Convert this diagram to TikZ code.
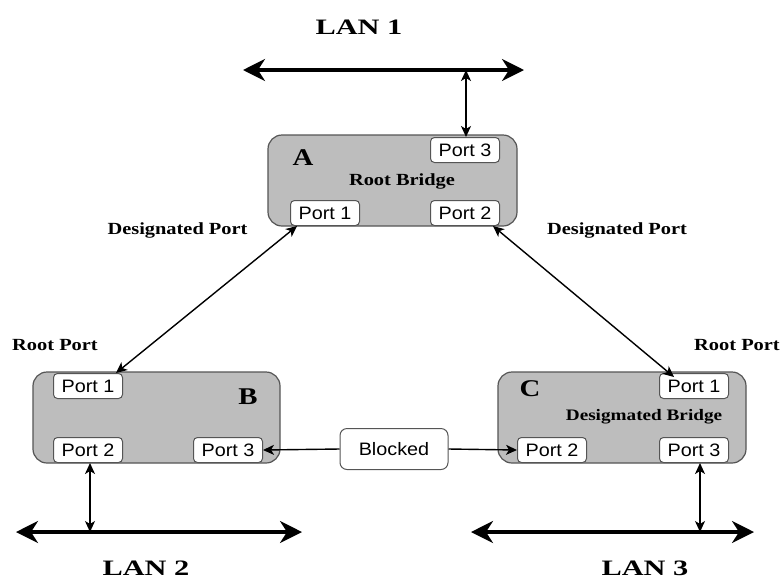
\documentclass[tikz,border=0pt]{standalone}
\usepackage{fontspec}
\setmainfont{Liberation Serif}
\newfontfamily\portfont[FakeStretch=1.1]{Liberation Sans}
\newfontfamily\capfont[FakeStretch=1.2]{Liberation Serif}
\newfontfamily\lanfont[FakeStretch=1.38]{Liberation Serif}
\usetikzlibrary{arrows.meta}
\definecolor{bridgegray}{HTML}{BDBDBD}
\definecolor{edgegray}{HTML}{555555}
\begin{document}
\begin{tikzpicture}[x=1pt,y=-1pt,
  bridge/.style={draw=edgegray,line width=1.2pt,fill=bridgegray,rounded corners=14pt},
  portbox/.style={draw=edgegray,line width=1pt,fill=white,rounded corners=4pt,
    minimum width=69pt,minimum height=25pt,inner sep=0pt,
    font=\portfont\fontsize{18}{18}\selectfont},
  blockbox/.style={draw=edgegray,line width=1pt,fill=white,rounded corners=7pt,
    minimum width=108pt,minimum height=41pt,inner sep=0pt,
    font=\portfont\fontsize{18}{18}\selectfont},
  letter/.style={font=\capfont\bfseries\fontsize{24}{24}\selectfont},
  lanlabel/.style={font=\lanfont\bfseries\fontsize{22}{22}\selectfont},
  caption/.style={font=\capfont\bfseries\fontsize{17}{17}\selectfont},
  bigtip/.tip={Stealth[length=22pt,width=22pt,inset=7pt]},
  smalltip/.tip={Stealth[length=11pt,width=10pt,inset=3pt]},
  lanline/.style={line width=3.2pt,bigtip-bigtip},
  link/.style={line width=1.4pt,smalltip-smalltip}
]
\useasboundingbox (0,0) rectangle (783,579);

% LAN segments
\coordinate (l1a) at (243,70);  \coordinate (l1b) at (524,70);
\coordinate (l2a) at (16,532);  \coordinate (l2b) at (302,532);
\coordinate (l3a) at (471,532); \coordinate (l3b) at (754,532);
\draw[lanline] (l1a) -- (l1b);
\draw[lanline] (l2a) -- (l2b);
\draw[lanline] (l3a) -- (l3b);
\node[lanlabel] (lan1) at (359,27) {LAN 1};
\node[lanlabel] (lan2) at (146,568) {LAN 2};
\node[lanlabel] (lan3) at (645,568) {LAN 3};

% Bridge A (root)
\node[bridge,minimum width=249pt,minimum height=91pt] (A) at (392.5,180.5) {};
\node[portbox] (a3) at (465,150) {Port 3};
\node[portbox] (a1) at (325,213) {Port 1};
\node[portbox] (a2) at (465,213) {Port 2};
\node[letter] (an) at (303,158) {A};
\node[caption] (ac) at (402,181) {Root Bridge};

% Bridge B
\node[bridge,minimum width=247pt,minimum height=91pt] (B) at (156.5,417.5) {};
\node[portbox] (b1) at (88,386) {Port 1};
\node[portbox] (b2) at (88,450) {Port 2};
\node[portbox] (b3) at (228,450) {Port 3};
\node[letter] (bn) at (248,397) {B};

% Bridge C (designated)
\node[bridge,minimum width=248pt,minimum height=91pt] (C) at (622,417.5) {};
\node[portbox] (c1) at (694,386) {Port 1};
\node[portbox] (c2) at (552,450) {Port 2};
\node[portbox] (c3) at (694,450) {Port 3};
\node[letter] (cn) at (530,389) {C};
\node[caption,font=\capfont\bfseries\fontsize{16}{16}\selectfont] (cc) at (644,417) {Desigmated Bridge};

% Blocked segment between B and C
\node[blockbox] (blk) at (394,449) {Blocked};

% Port labels
\node[caption] (dp1) at (177.5,230) {Designated Port};
\node[caption] (dp2) at (617,230) {Designated Port};
\node[caption] (rp1) at (55,345) {Root Port};
\node[caption] (rp2) at (737,345) {Root Port};

% Drops from LAN segments to ports
\coordinate (t1) at (466,70);
\coordinate (t2) at (90,532);
\coordinate (t3) at (700,532);
\draw[link] (t1) -- (a3.north -| t1);
\draw[link] (t2) -- (b2.south -| t2);
\draw[link] (t3) -- (c3.south -| t3);

% Links between bridges
\draw[link] ([xshift=7pt]a1.south west) -- ([xshift=-7pt]b1.north east);
\draw[link] ([xshift=-7pt]a2.south east) -- ([xshift=15pt,yshift=-4pt]c1.north west);
\draw[line width=1.4pt,-smalltip] (blk.west) -- (b3.east);
\draw[line width=1.4pt,-smalltip] (blk.east) -- (c2.west);
\end{tikzpicture}
\end{document}
